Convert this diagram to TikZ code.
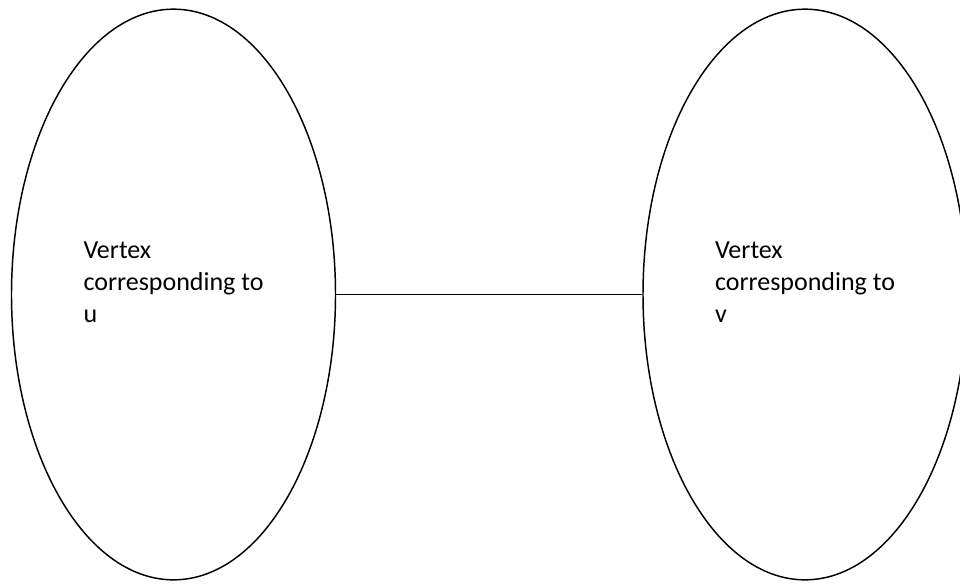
\documentclass[tikz,border=0pt]{standalone}
\usepackage{fontspec}
\setmainfont{Carlito}
\usetikzlibrary{shapes.geometric}
\begin{document}
\begin{tikzpicture}[x=0.75pt,y=-0.75pt,
  vertexset/.style={draw, ellipse, line width=1.1pt, inner sep=0pt,
    minimum width=243pt, minimum height=428pt},
  vertexlabel/.style={align=left, inner sep=0pt,
    font=\fontsize{19.5}{24}\selectfont},
  edgeline/.style={line width=1.1pt}]
  \clip (0,0) rectangle (960,583);
  % the two vertex sets
  \node[vertexset] (u) at (173.5,294.5) {};
  \node[vertexset] (v) at (805,294.5) {};
  % their captions
  \node[vertexlabel] (ulabel) at ([yshift=9pt]u.center) {Vertex\\corresponding to\\u};
  \node[vertexlabel] (vlabel) at ([yshift=9pt]v.center) {Vertex\\corresponding to\\v};
  % the edge joining them
  \draw[edgeline] (u.east) -- (v.west);
\end{tikzpicture}
\end{document}
